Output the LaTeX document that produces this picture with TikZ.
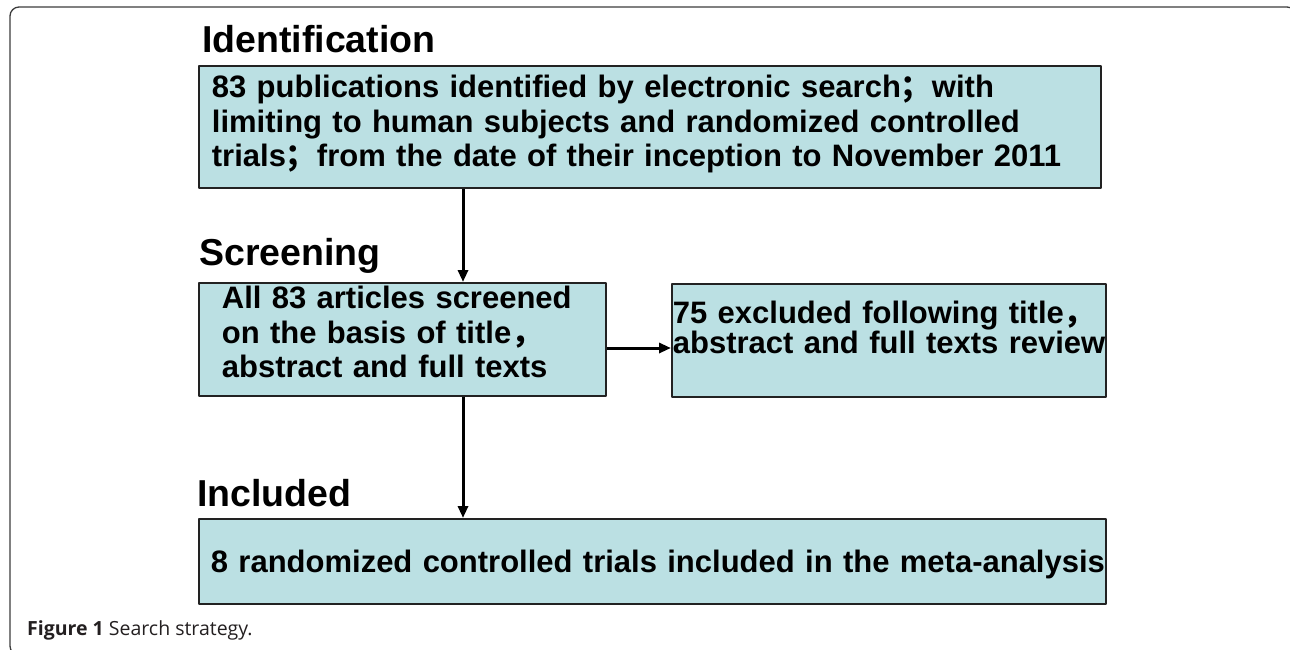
\documentclass[tikz,border=0pt]{standalone}
\usepackage{fontspec}
\setmainfont{Liberation Sans}
\newfontfamily\cjkfont{Noto Sans CJK SC}
\newfontfamily\capfont{Open Sans}
\usetikzlibrary{arrows.meta}
\definecolor{boxfill}{RGB}{187,224,227}
\definecolor{boxline}{RGB}{34,34,34}
\definecolor{framegray}{RGB}{60,60,60}
\definecolor{capgray}{RGB}{35,31,32}
\newcommand{\fsemi}{{\cjkfont\bfseries ；}}
\newcommand{\fcomma}{{\cjkfont\bfseries ，}}
\tikzset{
  stagebox/.style={draw=boxline, line width=1.8pt, fill=boxfill, anchor=north west,
    align=left, inner ysep=0pt, font=\fontsize{31}{34.5}\selectfont\bfseries},
  stagelabel/.style={anchor=base west, inner sep=0pt, font=\fontsize{37.5}{40}\selectfont\bfseries},
  flow/.style={-{Triangle[length=12pt,width=10pt]}, line width=3pt}
}
\begin{document}
\begin{tikzpicture}[x=1pt,y=-1pt,line join=round]
\useasboundingbox (0,0) rectangle (1290,649);
% outer frame
\draw[framegray, line width=1.3pt, rounded corners=9pt] (10,7) rectangle (1296,655);
% stage titles
\node[stagelabel] (lid) at (202,52) {Identification};
\node[stagelabel] (lsc) at (199,265) {Screening};
\node[stagelabel] (lin) at (197,506) {Included};
% boxes
\node[stagebox, inner xsep=13pt, text width=876pt, text height=32pt, text depth=90pt] (b1) at (198,65)
  {83 publications identified by electronic search\fsemi with\\
   limiting to human subjects and randomized controlled\\
   trials\fsemi from the date of their inception to November 2011};
\node[stagebox, inner xsep=23pt, text width=361pt, text height=26pt, text depth=87pt] (b2) at (198,282)
  {All 83 articles screened\\ on the basis of title\fcomma\\ abstract and full texts};
\node[stagebox, inner xsep=1pt, text width=432pt, text height=40pt, text depth=73pt,
  font=\fontsize{31}{30}\selectfont\bfseries] (b3) at (671,283)
  {\mbox{75 excluded following title\fcomma}\\ \mbox{abstract and full texts review}};
\node[stagebox, inner xsep=12pt, text width=883pt, text height=54pt, text depth=31pt] (b4) at (198,518)
  {\mbox{8 randomized controlled trials included in the meta-analysis}};
% connectors
\coordinate (ax) at (463,0);
\coordinate (ay) at (0,348);
\draw[flow] (ax |- b1.south) -- (ax |- b2.north);
\draw[flow] (b2.east |- ay) -- (b3.west |- ay);
\draw[flow] (ax |- b2.south) -- (ax |- b4.north);
% caption
\node[anchor=base west, inner sep=0pt, text=capgray, font=\capfont\fontsize{19.5}{22}\selectfont] (cap) at (27,635)
  {\textbf{Figure 1} Search strategy.};
\end{tikzpicture}
\end{document}
